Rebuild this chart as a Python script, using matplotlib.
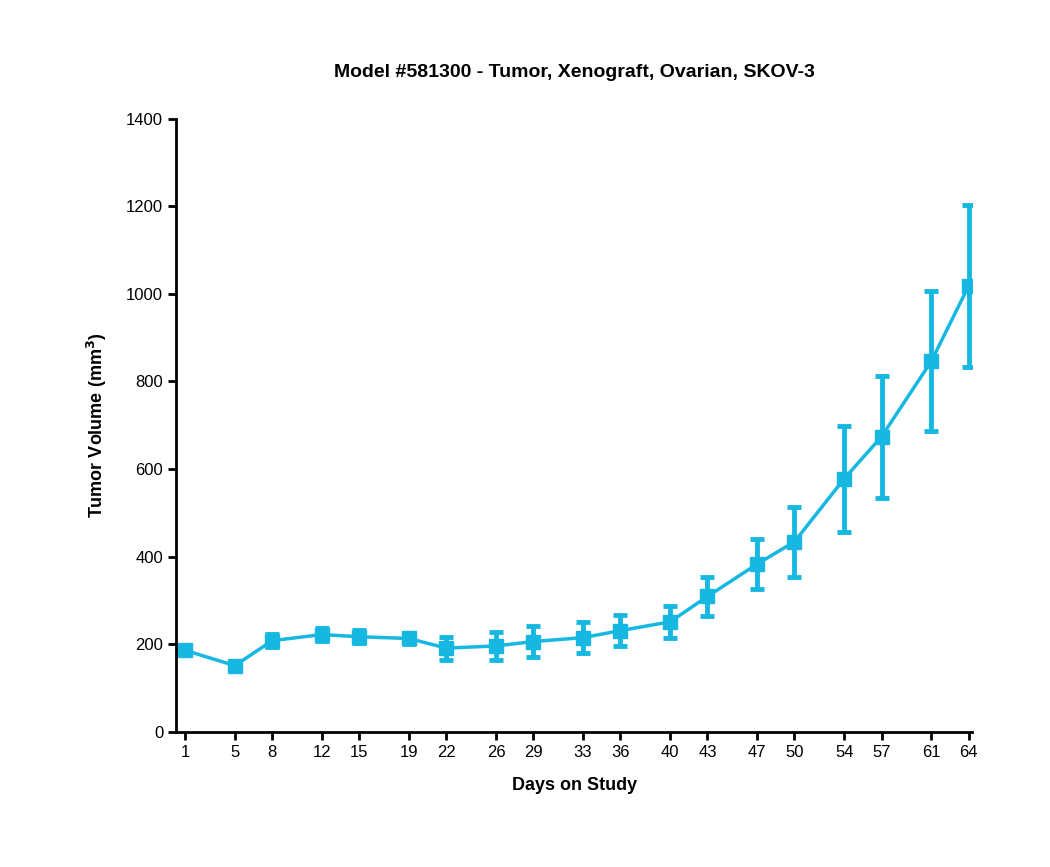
import numpy as np
import matplotlib.pyplot as plt

plt.rcParams['font.family'] = ['Liberation Sans', 'DejaVu Sans']

days = [1, 5, 8, 12, 15, 19, 22, 26, 29, 33, 36, 40, 43, 47, 50, 54, 57, 61, 64]
volume = [186, 151, 208, 222, 217, 213, 191, 196, 206, 215, 231, 251, 309, 383, 434, 578, 674, 846, 1018]
err = [8, 8, 15, 15, 15, 12, 26, 31, 36, 35, 36, 36, 45, 57, 80, 121, 139, 160, 185]

color = '#16b8e2'

fig = plt.figure(figsize=(10.5, 8.67), dpi=100)
ax = fig.add_axes([0.168, 0.156, 0.758, 0.707])
ax.errorbar(days, volume, yerr=err, color=color, marker='s', markersize=10,
            linewidth=2.5, elinewidth=3.5, capsize=5, capthick=3.5)

ax.set_xlim(0.3, 64.3)
ax.set_ylim(0, 1400)
ax.set_xticks(days)
ax.set_yticks(range(0, 1401, 200))
for s in ['top', 'right']:
    ax.spines[s].set_visible(False)
for s in ['left', 'bottom']:
    ax.spines[s].set_linewidth(2)
ax.tick_params(width=2, length=6, labelsize=12)

ax.set_title('Model #581300 - Tumor, Xenograft, Ovarian, SKOV-3',
             fontsize=14, fontweight='bold', pad=30)
ax.set_xlabel('Days on Study', fontsize=13, fontweight='bold', labelpad=12)
ax.set_ylabel('Tumor Volume (mm$^\\mathbf{3}$)', fontsize=13, fontweight='bold', labelpad=12)

fig.savefig('out.png')
